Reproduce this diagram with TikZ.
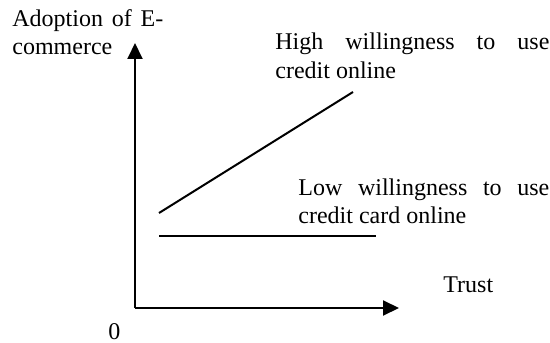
\documentclass[tikz,border=0pt]{standalone}
\usepackage{fontspec}
\setmainfont{Liberation Serif}
\usepackage{tikz}
\usetikzlibrary{arrows.meta}

\tikzset{
	axis/.style={line width=1pt, -{Triangle[length=8pt,width=7.5pt]}},
	trend/.style={line width=1pt},
	lbl/.style={anchor=base west, inner sep=0pt, align=left, font=\fontsize{12}{14}\selectfont}
}

\begin{document}
\begin{tikzpicture}[x=0.5pt,y=-0.5pt]
	\useasboundingbox (0,0) rectangle (550,342);
	% Define the axes
	\coordinate (origin) at (135,308);
	\coordinate (ytip) at (135,43);
	\coordinate (xtip) at (399,308);
	\draw[axis] (origin) -- (ytip);
	\draw[axis] (origin) -- (xtip);
	% Add labels to the axes (base = last line)
	\node[lbl] (ylabel) at (12,55) {\makebox[75.5pt][s]{Adoption of E-}\\commerce};
	\node[lbl] (xlabel) at (443,292) {Trust};
	\node[lbl] (zero) at (108,339) {0};
	% Create the two lines
	\coordinate (highA) at (159,213);
	\coordinate (highB) at (353,92);
	\coordinate (lowA) at (159,236);
	\coordinate (lowB) at (376,236);
	\draw[trend] (highA) -- (highB);
	\draw[trend] (lowA) -- (lowB);
	\node[lbl] (high) at (275,78) {\makebox[137pt][s]{High willingness to use}\\credit online};
	\node[lbl] (low) at (298,223) {\makebox[125.5pt][s]{Low willingness to use}\\credit card online};
\end{tikzpicture}
\end{document}
